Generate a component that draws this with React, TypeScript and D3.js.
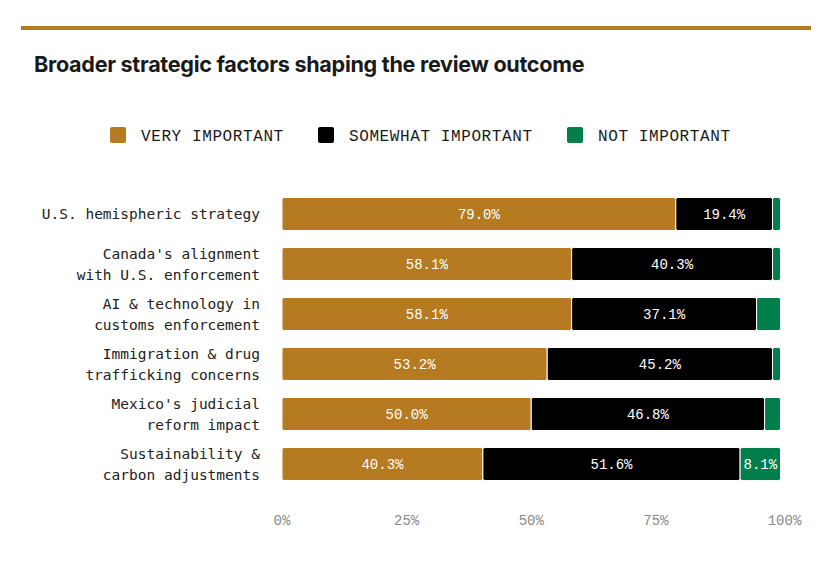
import React from "react";
import * as d3 from "d3";

const categories: string[][] = [
  ["U.S. hemispheric strategy"],
  ["Canada's alignment", "with U.S. enforcement"],
  ["AI & technology in", "customs enforcement"],
  ["Immigration & drug", "trafficking concerns"],
  ["Mexico's judicial", "reform impact"],
  ["Sustainability &", "carbon adjustments"],
];
const veryImportant = [79.0, 58.1, 58.1, 53.2, 50.0, 40.3];
const somewhatImportant = [19.4, 40.3, 37.1, 45.2, 46.8, 51.6];
const notImportant = [1.6, 1.6, 4.8, 1.6, 3.2, 8.1];
const seriesNames = ["VERY IMPORTANT", "SOMEWHAT IMPORTANT", "NOT IMPORTANT"];
const seriesColors = ["#b67a21", "#000000", "#007f4d"];
const tickValues = [0, 25, 50, 75, 100];

const W = 840;
const H = 561;
const monoLabel = "'DejaVu Sans Mono', monospace";
const monoValue = "'Liberation Mono', 'DejaVu Sans Mono', monospace";

export default function App() {
  const x = d3.scaleLinear().domain([0, 100]).range([282, 780.5]);
  const y = d3
    .scaleBand<number>()
    .domain(d3.range(categories.length))
    .range([189, 489])
    .paddingInner(0.34)
    .paddingOuter(0.17);

  const series = [veryImportant, somewhatImportant, notImportant];
  const legendX = [110, 318, 567];

  return (
    <svg width={W} height={H} style={{ display: "block", position: "absolute", left: 0, top: 0 }}>
      <rect width={W} height={H} fill="#ffffff" />
      <rect x={21} y={26} width={790} height={4} fill="#b67a21" />
      <text
        x={34}
        y={72}
        fontFamily="Inter, 'Noto Sans', sans-serif"
        fontWeight={700}
        fontSize={21.6}
        fill="#1a1a1a"
        letterSpacing={-0.3}
      >
        Broader strategic factors shaping the review outcome
      </text>

      {seriesNames.map((name, i) => (
        <g key={name}>
          <rect x={legendX[i]} y={127} width={16} height={16} rx={2} fill={seriesColors[i]} />
          <text
            x={legendX[i] + 31}
            y={141}
            fontFamily={monoValue}
            fontSize={16}
            letterSpacing={0.6}
            fill="#1a1a1a"
          >
            {name}
          </text>
        </g>
      ))}

      {categories.map((lines, i) => {
        const by = y(i)!;
        const bh = y.bandwidth();
        const cy = by + bh / 2;
        let acc = 0;
        return (
          <g key={i}>
            {lines.map((ln, j) => (
              <text
                key={j}
                x={260}
                y={cy + (j - (lines.length - 1) / 2) * 21}
                dy="0.35em"
                textAnchor="end"
                fontFamily={monoLabel}
                fontSize={14.5}
                fill="#222"
              >
                {ln}
              </text>
            ))}
            {series.map((s, k) => {
              const v = s[i];
              const x0 = x(acc);
              acc += v;
              const x1 = x(Math.min(acc, 100));
              const w = x1 - x0;
              return (
                <g key={k}>
                  <rect
                    x={x0}
                    y={by}
                    width={Math.max(0, w)}
                    height={bh}
                    rx={2}
                    fill={seriesColors[k]}
                    stroke="#ffffff"
                    strokeWidth={1}
                  />
                  {w > 36 && (
                    <text
                      x={x0 + w / 2}
                      y={cy}
                      dy="0.35em"
                      textAnchor="middle"
                      fontFamily={monoValue}
                      fontSize={14}
                      fill="#ffffff"
                    >
                      {v.toFixed(1)}%
                    </text>
                  )}
                </g>
              );
            })}
          </g>
        );
      })}

      {tickValues.map((t) => (
        <text
          key={t}
          x={x(t) + (t === 100 ? 4 : 0)}
          y={520}
          dy="0.35em"
          textAnchor="middle"
          fontFamily={monoValue}
          fontSize={14}
          fill="#8a8a8a"
        >
          {t}%
        </text>
      ))}
    </svg>
  );
}
